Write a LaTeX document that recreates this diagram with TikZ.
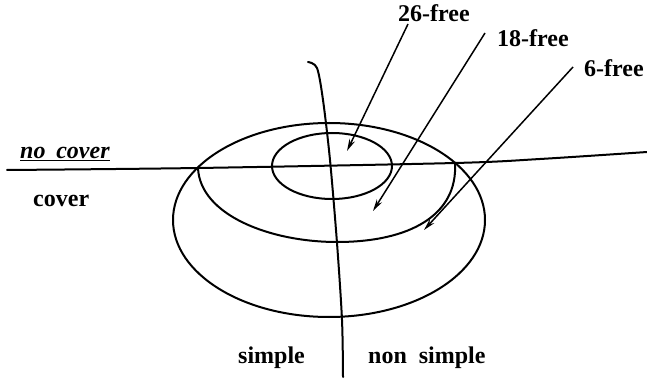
\documentclass[tikz,border=0pt]{standalone}
\usepackage{fontspec}
\setmainfont{Liberation Serif}
\usetikzlibrary{arrows.meta}
\tikzset{
  curve/.style={line width=2pt, line join=round, line cap=round},
  pointer/.style={line width=1.5pt, -{Stealth[length=12pt,width=6pt]}},
  lbl/.style={inner sep=0pt, font=\fontsize{24}{28}\selectfont\bfseries},
}
\begin{document}
\begin{tikzpicture}[x=1pt,y=-1pt]
\useasboundingbox (0,0) rectangle (647,379);
% regions
\draw[curve] (329,220) ellipse [x radius=156, y radius=97];
\draw[curve] (332,166) ellipse [x radius=60, y radius=33];
\coordinate (cl) at (198,168);
\coordinate (cr) at (455,163);
\draw[curve] (cl) .. controls (200,215) and (270,242) .. (337,242)
                  .. controls (410,242) and (458,215) .. (cr);
% cover line
\draw[curve] plot[smooth] coordinates {(7,170) (198,168) (455,163) (540,159) (647,152)};
% simple line
\draw[curve] plot[smooth] coordinates {(308,62) (317,68) (323,100) (330,160) (337,243) (342,320) (343,377)};
% labels
\node[lbl, anchor=base west] (f26) at (398,22) {26-free};
\node[lbl, anchor=base west] (f18) at (497,47) {18-free};
\node[lbl, anchor=base west] (f6) at (584,77) {6-free};
\node[lbl, anchor=base west] (nocov) at (20,159) {\underline{\itshape no\hspace{0.45em}cover}};
\node[lbl, anchor=base west] (cov) at (33,207) {cover};
\node[lbl, anchor=base west] (simp) at (238,363) {simple};
\node[lbl, anchor=base west] (nsimp) at (368,363) {non\hspace{0.5em}simple};
% pointers
\coordinate (s26) at (408,24);
\coordinate (t26) at (347,151);
\coordinate (s18) at (485,33);
\coordinate (t18) at (373,211);
\coordinate (s6) at (573,67);
\coordinate (t6) at (424,230);
\draw[pointer] (s26) -- (t26);
\draw[pointer] (s18) -- (t18);
\draw[pointer] (s6) -- (t6);
\end{tikzpicture}
\end{document}
